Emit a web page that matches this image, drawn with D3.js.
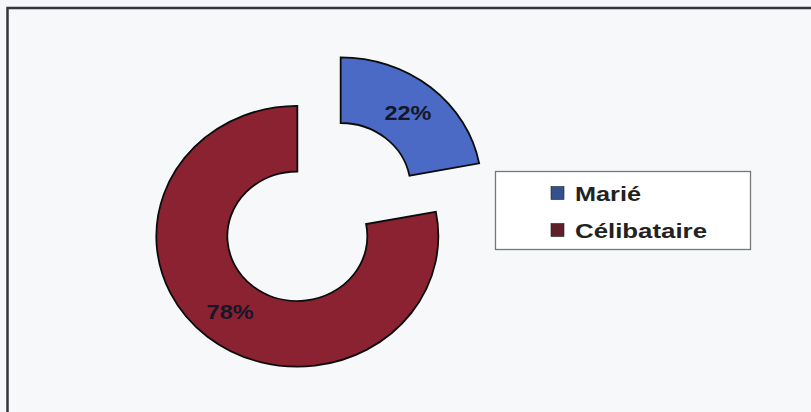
<!DOCTYPE html>
<html>
<head>
<meta charset="utf-8">
<script src="https://cdn.jsdelivr.net/npm/d3@7"></script>
<style>
  html, body { margin: 0; padding: 0; background: #f5f7f9; }
  svg { display: block; }
</style>
</head>
<body>
<svg id="chart" width="811" height="412"></svg>
<script>
// Marital status shares (percent)
const categories = ["Marié", "Célibataire"];
const values = [22, 78];
const sliceColors = ["#4a6ac6", "#8a2232"];
const legendColors = ["#34508f", "#60202b"];
const valueLabels = values.map(v => v + "%");

const W = 811, H = 412;
const svg = d3.select("#chart");

// Outer chart frame (only its top and left edges fall inside the view)
svg.append("rect")
  .attr("x", 7.5).attr("y", 8)
  .attr("width", W + 20).attr("height", H + 20)
  .attr("fill", "#f6f8fa")
  .attr("stroke", "#33363a")
  .attr("stroke-width", 2.5);

// Donut geometry: slightly flattened vertically
const cx = 319, cy = 212;
const sy = 0.925;
const rOuter = 141, rInner = 70;
const explode = 34;

const pie = d3.pie().sort(null).value(d => d);
const arcs = pie(values);
const arc = d3.arc().innerRadius(rInner).outerRadius(rOuter);

const offset = d => {
  const mid = (d.startAngle + d.endAngle) / 2;
  return [Math.sin(mid) * explode, -Math.cos(mid) * explode];
};

const donut = svg.append("g")
  .attr("transform", `translate(${cx},${cy}) scale(1,${sy})`);

donut.selectAll("path.slice")
  .data(arcs)
  .join("path")
  .attr("class", "slice")
  .attr("transform", d => { const o = offset(d); return `translate(${o[0]},${o[1]})`; })
  .attr("d", arc)
  .attr("fill", (d, i) => sliceColors[i])
  .attr("stroke", "#0c0c0c")
  .attr("stroke-width", 1.8)
  .attr("vector-effect", "non-scaling-stroke");

// Percentage labels at each slice centroid
svg.selectAll("text.pct")
  .data(arcs)
  .join("text")
  .attr("class", "pct")
  .attr("x", d => cx + offset(d)[0] + arc.centroid(d)[0])
  .attr("y", d => cy + (offset(d)[1] + arc.centroid(d)[1]) * sy)
  .attr("dy", "0.36em")
  .attr("text-anchor", "middle")
  .attr("font-family", "'Liberation Sans', Arial, sans-serif")
  .attr("font-size", 21)
  .attr("font-weight", "bold")
  .attr("fill", "#15162a")
  .attr("textLength", 47)
  .attr("lengthAdjust", "spacingAndGlyphs")
  .text((d, i) => valueLabels[i]);

// Legend
const legend = svg.append("g").attr("transform", "translate(495,171)");
legend.append("rect")
  .attr("x", 0.5).attr("y", 0.5)
  .attr("width", 255).attr("height", 78)
  .attr("fill", "#ffffff")
  .attr("stroke", "#74777b")
  .attr("stroke-width", 1.3);

const legendY = d3.scaleBand().domain(categories).range([4, 78]);
const textWidths = [66, 132];

const items = legend.selectAll("g.item")
  .data(categories)
  .join("g")
  .attr("class", "item")
  .attr("transform", d => `translate(0,${legendY(d) + legendY.bandwidth() / 2})`);

items.append("rect")
  .attr("x", 56).attr("y", -7)
  .attr("width", 13).attr("height", 13)
  .attr("fill", (d, i) => legendColors[i])
  .attr("stroke", "#222")
  .attr("stroke-width", 0.6);

items.append("text")
  .attr("x", 80)
  .attr("y", 7)
  .attr("font-family", "'Liberation Sans', Arial, sans-serif")
  .attr("font-size", 20)
  .attr("font-weight", "bold")
  .attr("fill", "#222222")
  .attr("textLength", (d, i) => textWidths[i])
  .attr("lengthAdjust", "spacingAndGlyphs")
  .text(d => d);
</script>
</body>
</html>
